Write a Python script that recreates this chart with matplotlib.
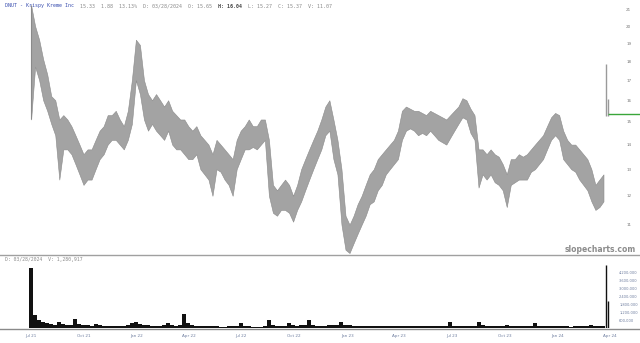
import matplotlib
matplotlib.use("Agg")
import matplotlib.pyplot as plt
import pandas as pd
from matplotlib.lines import Line2D

# weekly price ranges, DNUT from the July 2021 IPO
week_high = [21.3, 20.0, 19.2, 18.1, 17.3, 16.2, 16.0, 15.1, 15.3, 15.1,
             14.8, 14.4, 14.0, 13.6, 13.8, 13.8, 14.2, 14.6, 14.8, 15.3,
             15.3, 15.5, 15.1, 14.8, 15.5, 17.0, 19.2, 18.9, 17.0, 16.3,
             16.0, 16.3, 16.0, 15.7, 16.0, 15.5, 15.3, 15.1, 15.1, 14.8,
             14.6, 14.8, 14.4, 14.2, 14.0, 13.6, 14.2, 14.0, 13.8, 13.6,
             13.4, 14.2, 14.6, 14.8, 15.1, 14.8, 14.8, 15.1, 15.1, 14.2,
             12.4, 12.2, 12.4, 12.6, 12.4, 12.0, 12.4, 13.0, 13.4, 13.8,
             14.2, 14.6, 15.1, 15.7, 16.0, 15.1, 14.2, 13.0, 11.3, 11.0,
             11.3, 11.7, 12.0, 12.4, 12.8, 13.0, 13.4, 13.6, 13.8, 14.0,
             14.2, 14.6, 15.5, 15.7, 15.6, 15.5, 15.5, 15.4, 15.3, 15.5,
             15.4, 15.3, 15.2, 15.1, 15.3, 15.5, 15.7, 16.1, 16.0, 15.6,
             15.3, 13.8, 13.8, 13.6, 13.8, 13.6, 13.5, 13.2, 12.8, 13.4,
             13.4, 13.6, 13.5, 13.6, 13.8, 14.0, 14.2, 14.4, 14.8, 15.2,
             15.4, 15.3, 14.6, 14.2, 14.0, 14.0, 13.8, 13.6, 13.4, 13.0,
             12.4, 12.6, 12.8]
week_low = [15.1, 17.7, 17.0, 16.0, 15.5, 14.9, 14.4, 12.6, 13.8, 13.8,
            13.6, 13.2, 12.8, 12.4, 12.6, 12.6, 13.0, 13.4, 13.6, 14.0,
            14.2, 14.2, 14.0, 13.8, 14.2, 14.9, 17.0, 16.3, 15.1, 14.6,
            14.9, 14.6, 14.4, 14.2, 14.6, 14.0, 13.8, 13.8, 13.6, 13.4,
            13.4, 13.6, 13.0, 12.8, 12.6, 12.0, 13.0, 12.9, 12.6, 12.4,
            12.0, 13.0, 13.4, 13.8, 13.8, 13.9, 13.8, 14.0, 14.2, 12.0,
            11.4, 11.3, 11.5, 11.5, 11.4, 11.1, 11.5, 11.8, 12.2, 12.6,
            13.0, 13.4, 13.8, 14.4, 14.6, 13.4, 12.8, 11.0, 10.2, 10.1,
            10.4, 10.7, 11.0, 11.3, 11.7, 11.8, 12.2, 12.4, 12.8, 13.0,
            13.2, 13.4, 14.2, 14.6, 14.7, 14.6, 14.4, 14.5, 14.4, 14.6,
            14.4, 14.2, 14.1, 14.0, 14.3, 14.6, 14.9, 15.2, 15.1, 14.5,
            14.2, 12.3, 12.8, 12.6, 12.8, 12.5, 12.4, 12.2, 11.6, 12.4,
            12.5, 12.6, 12.6, 12.6, 12.9, 13.0, 13.2, 13.4, 13.8, 14.2,
            14.4, 14.2, 13.4, 13.2, 13.0, 12.9, 12.6, 12.4, 12.2, 11.8,
            11.5, 11.6, 11.8]
# volume in thousands of shares
week_vol = [4500, 1000, 620, 420, 380, 300, 260, 450, 300, 250,
            220, 650, 300, 240, 200, 180, 300, 200, 180, 160,
            150, 170, 150, 160, 220, 380, 420, 300, 250, 200,
            180, 170, 160, 200, 380, 220, 180, 200, 1080, 350,
            220, 180, 150, 130, 120, 140, 120, 100, 110, 120,
            130, 150, 400, 150, 120, 110, 100, 110, 130, 620,
            250, 180, 150, 160, 380, 200, 170, 200, 190, 600,
            220, 180, 170, 160, 200, 250, 210, 480, 250, 200,
            170, 150, 140, 130, 120, 140, 130, 120, 150, 160,
            140, 150, 170, 160, 150, 140, 130, 140, 150, 160,
            170, 150, 140, 160, 480, 170, 150, 160, 150, 180,
            170, 420, 200, 170, 150, 140, 150, 160, 220, 170,
            150, 140, 150, 160, 150, 400, 170, 150, 140, 160,
            150, 140, 130, 120, 110, 120, 130, 150, 180, 200,
            170, 160, 180]

# last two sessions (McDonald's news)
last_dates = ["2024-03-26", "2024-03-28"]
last_high = [17.84, 16.04]
last_low = [15.25, 15.27]
last_vol = [4750, 2000]
last_close = 15.37

price_ticks = [21, 20, 19, 18, 17, 16, 15, 14, 13, 12, 11]
vol_ticks = [600, 1200, 1800, 2400, 3000, 3600, 4200]

week_dates = pd.date_range("2021-07-01", periods=len(week_high), freq="7D")
day_dates = pd.to_datetime(last_dates)
label_dates = pd.date_range("2021-07-01", periods=12, freq="QS")

W, H = 640, 343
fig = plt.figure(figsize=(6.4, 3.43), dpi=100)
fig.patch.set_facecolor("white")

x0 = pd.Timestamp("2021-05-08")
x1 = pd.Timestamp("2024-04-10")

# price panel
ax = fig.add_axes([0, 1 - 255 / H, 615 / W, 255 / H])
ax.fill_between(week_dates, week_low, week_high, color="#a3a3a3", linewidth=0.4,
                edgecolor="#8a8a8a")
ax.vlines(week_dates[:1], week_low[:1], week_high[:1], color="#8a8a8a", linewidth=0.8)
ax.vlines(day_dates, last_low, last_high, color="#9a9a9a", linewidth=1.0)
ax.set_yscale("log")
ax.set_ylim(10.04, 21.64)
ax.set_xlim(x0, x1)
ax.hlines(last_close, day_dates[-1], x1 + pd.Timedelta(days=60), color="#3aa63a",
          linewidth=1.0, clip_on=False)
ax.yaxis.tick_right()
ax.set_yticks(price_ticks)
ax.set_yticklabels([str(t) for t in price_ticks])
ax.yaxis.set_minor_locator(matplotlib.ticker.NullLocator())
ax.tick_params(axis="y", length=0, pad=8, labelsize=3, labelcolor="#777777")
ax.set_xticks([])
for s in ax.spines.values():
    s.set_visible(False)

# volume panel
vax = fig.add_axes([0, 1 - 328 / H, 615 / W, (328 - 262) / H])
vax.bar(week_dates, week_vol, width=7, color="#111111", linewidth=0)
vax.vlines(day_dates, 0, last_vol, color="#111111", linewidth=1.0)
vax.set_xlim(x0, x1)
vax.set_ylim(0, 4950)
vax.yaxis.tick_right()
vax.set_yticks(vol_ticks)
vax.set_yticklabels([f"{v * 1000:,}" for v in vol_ticks])
vax.tick_params(axis="y", length=0, pad=3, labelsize=2.6, labelcolor="#6f7fa0")
vax.set_xticks(label_dates)
vax.set_xticklabels([d.strftime("%b %y") for d in label_dates])
vax.tick_params(axis="x", length=0, pad=4, labelsize=3, labelcolor="#6f7fa0")
for s in vax.spines.values():
    s.set_visible(False)

# panel separators
fig.add_artist(Line2D([0, 1], [1 - 255 / H, 1 - 255 / H], color="#a0a0a0", linewidth=1.0))
fig.add_artist(Line2D([0, 1], [1 - 328.5 / H, 1 - 328.5 / H], color="#8a8a8a", linewidth=1.0))

# header
mono = "DejaVu Sans Mono"
t = fig.text(5 / W, 1 - 6 / H, "DNUT - Krispy Kreme Inc", family=mono, fontsize=3.6,
             color="#3a4fb0", va="center")
pieces = [("  15.33  1.88  13.13%  D: 03/28/2024  O: 15.65  ", "normal"),
          ("H: 16.04", "bold"),
          ("  L: 15.27  C: 15.37  V: 11.07", "normal")]
prev = t
for s, w in pieces:
    prev = ax.annotate(s, xy=(1, 0.5), xycoords=prev, va="center", ha="left",
                       family=mono, fontsize=3.6,
                       color="#8a8a8a" if w == "normal" else "#444444",
                       fontweight=w, annotation_clip=False)

fig.text(5 / W, 1 - 259 / H, "D: 03/28/2024  V: 1,280,917", family=mono, fontsize=3.4,
         color="#8a8a8a", va="center")
fig.text(636 / W, 1 - 249 / H, "slopecharts.com", ha="right", va="center",
         fontsize=5.5, fontweight="bold", color="#8c8c8c")

fig.savefig("out.png", dpi=100)
